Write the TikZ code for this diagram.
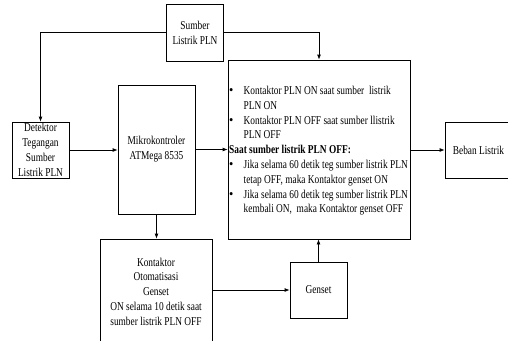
\documentclass[tikz,border=0pt]{standalone}
\usepackage{fontspec}
\setmainfont{Liberation Serif}[FakeStretch=0.78]
\usetikzlibrary{arrows.meta}
\newcommand\myfs{\fontsize{12}{14.8}\selectfont}
\newcommand\bul{\makebox[14.5pt][l]{\scalebox{1.3}[1.1]{\textbullet}}}
\newcommand\ind{\hspace*{14.5pt}}
\begin{document}
\begin{tikzpicture}[x=1pt,y=-1pt,
  box/.style={draw, line width=0.8pt, inner sep=0pt, align=center, font=\myfs},
  arr/.style={line width=0.8pt, -{Latex[length=5pt,width=4pt]}}]
\useasboundingbox (0,0) rectangle (508,340);
\clip (0,0) rectangle (508,340);
\node[box, minimum width=57, minimum height=57] (sumber) at (195,32.5) {Sumber\\Listrik PLN};
\node[box, minimum width=57, minimum height=56] (detektor) at (40.5,150) {Detektor\\Tegangan\\Sumber\\Listrik PLN};
\node[box, minimum width=77, minimum height=129] (mikro) at (156.5,149.5) {Mikrokontroler\\ATMega 8535};
\node[box, minimum width=182, minimum height=179] (ctrl) at (319,149.5) {};
\node[anchor=north west, inner sep=0pt, align=left, font=\myfs] (ctrltext) at (229,86) {%
\bul Kontaktor PLN ON saat sumber\ \ listrik\\
\ind PLN ON\\
\bul Kontaktor PLN OFF saat sumber llistrik\\
\ind PLN OFF\\
\textbf{Saat sumber listrik PLN OFF:}\\
\bul Jika selama 60 detik teg sumber listrik PLN\\
\ind tetap OFF, maka Kontaktor genset ON\\
\bul Jika selama 60 detik teg sumber listrik PLN\\
\ind kembali ON,\ \ maka Kontaktor genset OFF};
\node[box, minimum width=67, minimum height=56] (beban) at (478.5,150) {Beban Listrik};
\node[box, minimum width=112, minimum height=105] (kontaktor) at (156,291.5) {Kontaktor\\Otomatisasi\\Genset\\ON selama 10 detik saat\\sumber listrik PLN OFF};
\node[box, minimum width=57, minimum height=56] (genset) at (318.5,290) {Genset};
\draw[arr] (sumber.west) -| (detektor.north);
\draw[arr] (sumber.east) -| (ctrl.north);
\draw[arr] (detektor.east) -- (detektor.east -| mikro.west);
\draw[arr] (mikro.east) -- (mikro.east -| ctrl.west);
\draw[arr] (ctrl.east |- beban.west) -- (beban.west);
\draw[arr] (mikro.south) -- (mikro.south |- kontaktor.north);
\draw[arr] (kontaktor.east |- genset.west) -- (genset.west);
\draw[arr] (genset.north) -- (genset.north |- ctrl.south);
\end{tikzpicture}
\end{document}
